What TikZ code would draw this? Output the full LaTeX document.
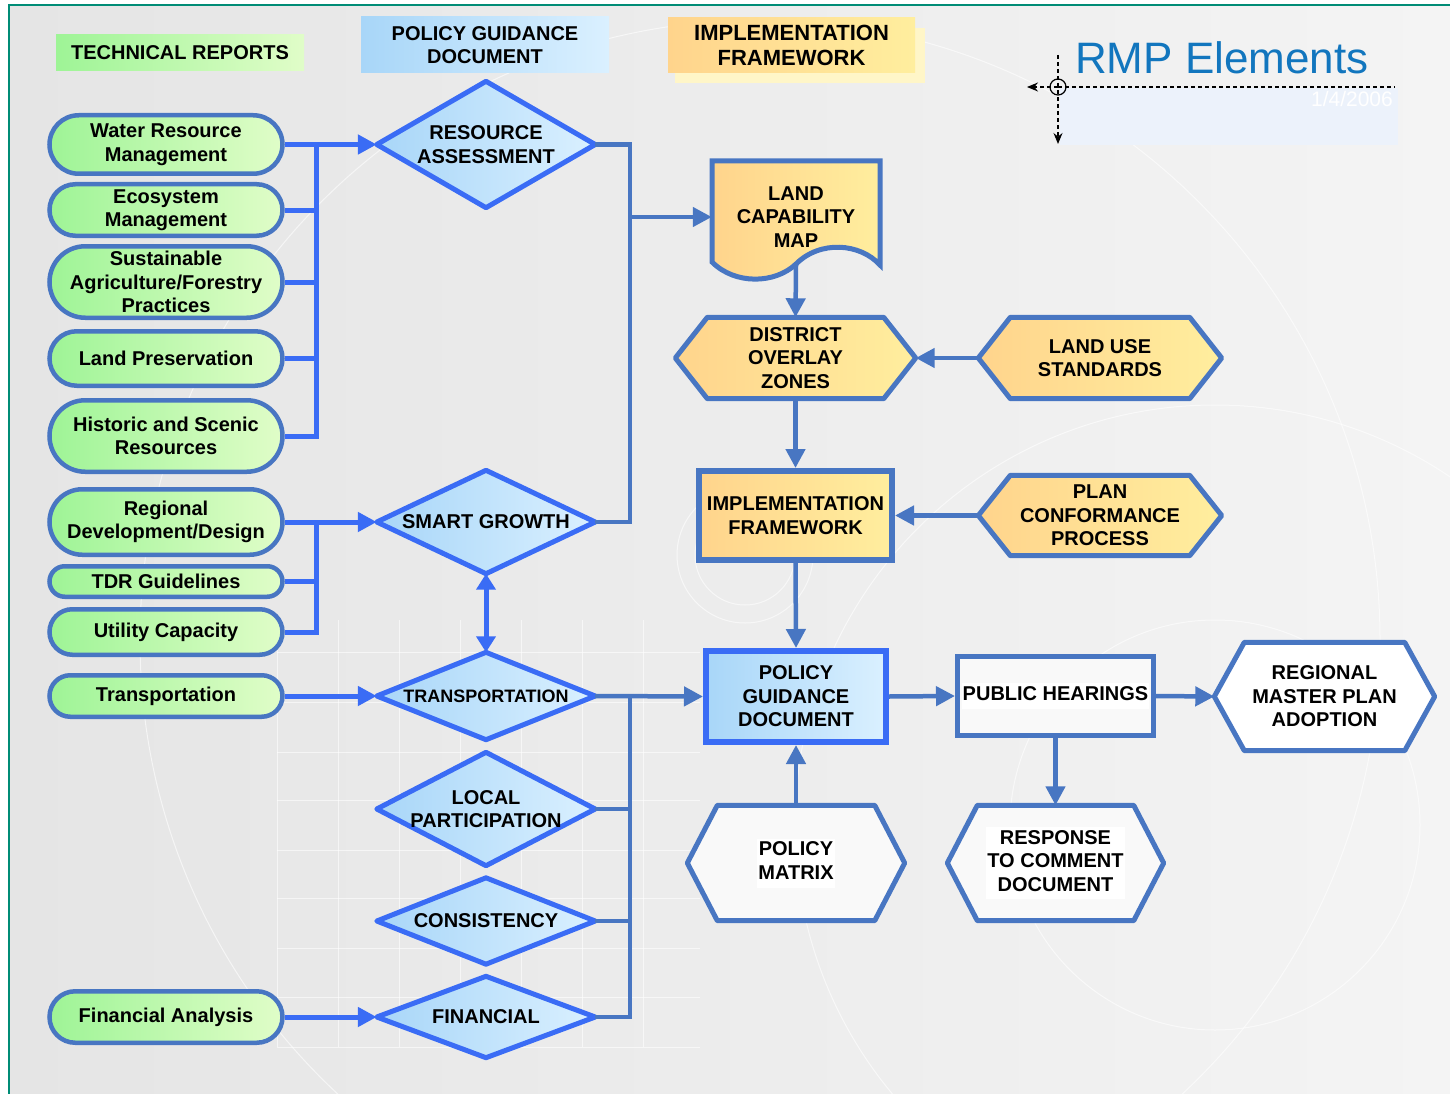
\documentclass[tikz,border=0pt]{standalone}
\usepackage{fontspec}
\setmainfont{Liberation Sans}
\usetikzlibrary{arrows.meta,shapes.misc,backgrounds}

\definecolor{steel}{RGB}{72,118,194}
\definecolor{bright}{RGB}{58,108,245}
\definecolor{pillA}{RGB}{158,244,150}
\definecolor{pillB}{RGB}{224,253,200}
\definecolor{diamA}{RGB}{168,214,248}
\definecolor{diamB}{RGB}{218,240,255}
\definecolor{yelA}{RGB}{255,212,140}
\definecolor{yelB}{RGB}{255,238,158}
\definecolor{teal}{RGB}{0,140,118}
\definecolor{titleblue}{RGB}{18,118,190}
\definecolor{notebg}{RGB}{236,242,251}
\definecolor{paleyel}{RGB}{255,246,200}
\definecolor{bgA}{RGB}{229,229,229}
\definecolor{bgB}{RGB}{244,244,244}

\newcommand\whitebg[1]{{\setlength\fboxsep{1pt}\colorbox{white}{\begin{tabular}{@{}c@{}}#1\end{tabular}}}}

\tikzset{
  lbl/.style={font=\bfseries\fontsize{20}{23.5}\selectfont, align=center, inner sep=0pt},
  pill/.style={lbl, rounded rectangle, draw=steel, line width=4.5pt, left color=pillA, right color=pillB, minimum width=233pt},
  ghost/.style={lbl, rectangle},
  diam/.style={draw=bright, line width=5pt, line join=round, left color=diamA, right color=diamB},
  hexyel/.style={draw=steel, line width=5pt, line join=round, left color=yelA, right color=yelB},
  hexwhite/.style={draw=steel, line width=5pt, line join=round, fill=white},
  hexgrey/.style={draw=steel, line width=5pt, line join=round, fill=gray!5},
  feed/.style={draw=bright, line width=5pt},
  link/.style={draw=steel, line width=4.5pt},
  tip/.style={-{Triangle[length=19pt,width=19pt]}},
  deco/.style={draw=white, line width=1pt, opacity=0.6},
}

\begin{document}
\begin{tikzpicture}[x=1pt,y=1pt,yscale=-1]
\useasboundingbox (0,0) rectangle (1450,1094);

\begin{scope}[on background layer]
  % Hintergrund
  \shade[left color=bgA, right color=bgB] (9,5) rectangle (1450,1094);
  \draw[deco] (1215,825) circle (205);
  \draw[deco] (1215,825) circle (420);
  \draw[deco] (760,640) circle (620);
  \draw[deco] (745,555) circle (68);
  \draw[deco] (745,555) circle (50);
  \foreach \gx in {277,338,...,700}
    \draw[deco] (\gx,620) -- (\gx,1047);
  \foreach \gy in {652,702,752,800,850,898,948,997,1047}
    \draw[deco] (277,\gy) -- (700,\gy);
  % Rahmen
  \draw[teal, line width=2pt] (1450,5) -- (9,5) -- (9,1094);
  % Notizfeld
  \fill[notebg] (1060,88) rectangle (1398,145);
  % Schatten Legende
  \fill[paleyel] (675,28) rectangle (925,83);
\end{scope}

% Legende
\node[lbl, left color=pillA, right color=pillB, minimum width=248pt, minimum height=36pt] (legtr) at (180,53) {TECHNICAL REPORTS};
\node[lbl, left color=diamA, right color=diamB, minimum width=248pt, minimum height=56pt] (legpgd) at (485,45) {POLICY GUIDANCE\\DOCUMENT};
\node[lbl, left color=yelA, right color=yelB, minimum width=247pt, minimum height=55pt, font=\bfseries\fontsize{22}{25}\selectfont] (legimpl) at (791.5,45.5) {IMPLEMENTATION\\FRAMEWORK};

% Titel
\node[anchor=base west, inner sep=0pt, text=titleblue, font=\fontsize{44}{50}\selectfont] (title) at (1075,74) {RMP Elements};
\node[anchor=base east, inner sep=0pt, text=white, font=\fontsize{21}{24}\selectfont] (date) at (1393,107) {1/4/2006};
\coordinate (cross) at (1058,87);
\coordinate (cross-l) at (1027,87);
\coordinate (cross-r) at (1395,87);
\coordinate (cross-t) at (1058,55);
\coordinate (cross-b) at (1058,144);
\draw[line width=1.2pt] (cross) circle (8);
\draw[line width=1.2pt, dash pattern=on 4pt off 3pt] (cross) -- (cross-r);
\draw[line width=1.2pt, dash pattern=on 4pt off 3pt, -{Stealth[length=11pt,width=9pt]}] (cross) -- (cross-l);
\draw[line width=1.2pt, dash pattern=on 4pt off 3pt, -{Stealth[length=11pt,width=9pt]}] (cross-t) -- (cross-b);

% Technical reports
\node[pill, minimum height=58.5pt] (wrm) at (166,144.5) {Water Resource\\Management};
\node[pill, minimum height=51.5pt] (eco) at (166,210) {Ecosystem\\Management};
\node[pill, minimum height=71.5pt] (saf) at (166,282) {Sustainable\\Agriculture/Forestry\\Practices};
\node[pill, minimum height=54.5pt] (land) at (166,358.5) {Land Preservation};
\node[pill, minimum height=71.5pt] (hsr) at (166,436) {Historic and Scenic\\Resources};
\node[pill, minimum height=65.5pt] (rdd) at (166,522) {Regional\\Development/Design};
\node[pill, minimum height=30.5pt] (tdr) at (166,581.5) {TDR Guidelines};
\node[pill, minimum height=45.5pt] (util) at (166,632) {Utility Capacity};
\node[pill, minimum height=41.5pt] (trans) at (166,696) {Transportation};
\node[pill, minimum height=51.5pt] (fina) at (166,1017) {Financial Analysis};

% Policy guidance (Rauten)
\node[ghost, minimum width=218pt, minimum height=126pt] (resas) at (486,144.5) {RESOURCE\\ASSESSMENT};
\node[ghost, minimum width=218pt, minimum height=103pt] (smart) at (486,522) {SMART GROWTH};
\node[ghost, minimum width=218pt, minimum height=87pt, font=\bfseries\fontsize{18}{22}\selectfont] (transp) at (486,696) {TRANSPORTATION};
\node[ghost, minimum width=218pt, minimum height=113pt] (local) at (486,809) {LOCAL\\PARTICIPATION};
\node[ghost, minimum width=218pt, minimum height=86pt] (consis) at (486,921) {CONSISTENCY};
\node[ghost, minimum width=218pt, minimum height=81pt] (finan) at (486,1017) {FINANCIAL};

% Implementation framework
\node[ghost, minimum width=168pt, minimum height=96pt] (lcm) at (796,217) {LAND\\CAPABILITY\\MAP};
\node[ghost, minimum width=240pt, minimum height=81pt] (doz) at (795.5,358) {DISTRICT\\OVERLAY\\ZONES};
\node[ghost, minimum width=243pt, minimum height=81pt] (lus) at (1100,358) {LAND USE\\STANDARDS};
\node[lbl, draw=steel, line width=6pt, left color=yelA, right color=yelB, minimum width=193pt, minimum height=89pt] (impl) at (795.5,515.5) {IMPLEMENTATION\\FRAMEWORK};
\node[ghost, minimum width=243pt, minimum height=80pt] (pcp) at (1100,515.5) {PLAN\\CONFORMANCE\\PROCESS};

% Abschluss
\node[lbl, draw=bright, line width=6pt, left color=diamA, right color=diamB, minimum width=180pt, minimum height=91pt] (pgd) at (796,696.5) {POLICY\\GUIDANCE\\DOCUMENT};
\node[lbl, draw=steel, line width=5pt, fill=gray!5, minimum width=196pt, minimum height=79pt] (hear) at (1055.5,696) {\whitebg{PUBLIC HEARINGS}};
\node[ghost, minimum width=220pt, minimum height=108pt] (rmpa) at (1324.5,696.5) {REGIONAL\\MASTER PLAN\\ADOPTION};
\node[ghost, minimum width=217pt, minimum height=115pt] (matrix) at (796,863) {\whitebg{POLICY\\MATRIX}};
\node[ghost, minimum width=216pt, minimum height=115pt] (resp) at (1055.5,863) {\whitebg{RESPONSE\\TO COMMENT\\DOCUMENT}};

\begin{scope}[on background layer]
  % Rauten
  \foreach \n in {resas,smart,transp,local,consis,finan}
    \draw[diam] (\n.west) -- (\n.north) -- (\n.east) -- (\n.south) -- cycle;
  % Sechsecke
  \foreach \n/\d/\s in {doz/32/hexyel, lus/32/hexyel, pcp/32/hexyel, rmpa/30/hexwhite, matrix/30/hexgrey, resp/30/hexgrey}
    \draw[\s] (\n.west) -- ([xshift=\d pt]\n.north west) -- ([xshift=-\d pt]\n.north east) -- (\n.east)
      -- ([xshift=-\d pt]\n.south east) -- ([xshift=\d pt]\n.south west) -- cycle;
  % Dokument
  \draw[hexyel, line join=miter] (712,161) -- (880,161) -- (880,265)
    .. controls (860,243) and (820,240) .. (796,264)
    .. controls (775,284) and (735,285) .. (712,262) -- cycle;
\end{scope}

% Verbindungen links
\coordinate (tr-bus) at (316,144.5);
\coordinate (sg-bus) at (316,522);
\draw[feed, tip] (wrm.east) -- (resas.west);
\draw[feed] (hsr.east) -| (tr-bus);
\foreach \n in {eco,saf,land}
  \draw[feed] (\n.east) -- (\n.east -| tr-bus);
\draw[feed, tip] (rdd.east) -- (smart.west);
\draw[feed] (util.east) -| (sg-bus);
\draw[feed] (tdr.east) -- (tdr.east -| sg-bus);
\draw[feed, tip] (trans.east) -- (transp.west);
\draw[feed, tip] (fina.east) -- (finan.west);
\draw[feed, {Triangle[length=16pt,width=19pt]}-{Triangle[length=16pt,width=19pt]}] (smart.south) -- (transp.north);

% Verbindungen Mitte
\coordinate (ra-bus) at (630,217);
\coordinate (tp-bus) at (630,696);
\draw[link] (resas.east) -| (ra-bus);
\draw[link] (smart.east) -| (ra-bus);
\draw[link, tip] (ra-bus) -- (lcm.west);
\draw[link, tip] (transp.east) -- (pgd.west);
\foreach \n in {local,consis,finan}
  \draw[link] (\n.east) -| (tp-bus);

% Verbindungen rechts
\draw[link, tip] (lcm.south) -- (doz.north);
\draw[link, tip] (lus.west) -- (doz.east);
\draw[link, tip] (doz.south) -- (impl.north);
\draw[link, tip] (pcp.west) -- (impl.east);
\draw[link, tip] (impl.south) -- (pgd.north);
\draw[link, tip] (matrix.north) -- (pgd.south);
\draw[link, tip] (pgd.east) -- (hear.west);
\draw[link, tip] (hear.east) -- (rmpa.west);
\draw[link, tip] (hear.south) -- (resp.north);

\end{tikzpicture}
\end{document}
